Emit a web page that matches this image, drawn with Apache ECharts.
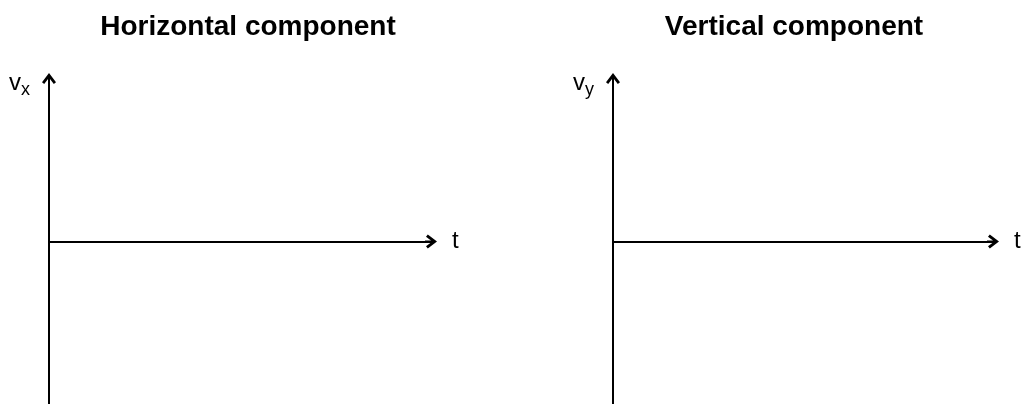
<!DOCTYPE html>
<html>
<head>
<meta charset="utf-8">
<script src="https://cdn.jsdelivr.net/npm/echarts@6/dist/echarts.min.js"></script>
<style>
  html, body { margin: 0; padding: 0; background: #fff; }
  #main { width: 1024px; height: 404px; }
</style>
</head>
<body>
<div id="main"></div>
<script>
// two empty velocity-time sketches
var titles = ['Horizontal component', 'Vertical component'];
var ySubs = ['x', 'y'];
var xName = 't';
var tRange = [0, 1];
var vRange = [-1, 1];
var emptyData = [[], []];

var font = '"Liberation Sans", Arial, sans-serif';
// open chevron arrow head (pointing up, shaft included)
var arrowPath = 'path://M7,0 L14,9.2 L11.8,11 L8,6 L8,12 L6,12 L6,6 L2.2,11 L0,9.2 Z';

var myChart = echarts.init(document.getElementById('main'));

var grids = [
    {left: 49, top: 79, width: 382, height: 325},
    {left: 613, top: 79, width: 380, height: 325}
];
var titleX = [243, 789];

var option = {
    animation: false,
    backgroundColor: '#fff',
    title: titles.map(function (t, i) {
        return {
            text: t,
            left: titleX[i],
            top: 8,
            textAlign: 'center',
            textStyle: {fontFamily: font, fontSize: 28, fontWeight: 'bold', color: '#000'}
        };
    }),
    grid: grids,
    xAxis: grids.map(function (g, i) {
        return {
            type: 'value',
            gridIndex: i,
            min: tRange[0],
            max: tRange[1],
            name: xName,
            nameLocation: 'end',
            nameGap: 21,
            nameTextStyle: {fontFamily: font, fontSize: 24, color: '#000', padding: [4, 0, 0, 0]},
            axisLine: {
                onZero: true,
                symbol: ['none', arrowPath],
                symbolSize: [14, 12],
                lineStyle: {color: '#000', width: 2}
            },
            axisTick: {show: false},
            axisLabel: {show: false},
            splitLine: {show: false}
        };
    }),
    yAxis: grids.map(function (g, i) {
        return {
            type: 'value',
            gridIndex: i,
            min: vRange[0],
            max: vRange[1],
            name: '{a|v}{b|' + ySubs[i] + '}',
            nameLocation: 'end',
            nameGap: 12,
            nameTextStyle: {
                align: 'right',
                verticalAlign: 'top',
                padding: [0, 19, 0, 0],
                rich: {
                    a: {fontFamily: font, fontSize: 24, color: '#000'},
                    b: {fontFamily: font, fontSize: 18, color: '#000', padding: [14, 0, 0, 0]}
                }
            },
            axisLine: {
                onZero: true,
                symbol: ['none', arrowPath],
                symbolSize: [14, 12],
                lineStyle: {color: '#000', width: 2}
            },
            axisTick: {show: false},
            axisLabel: {show: false},
            splitLine: {show: false}
        };
    }),
    series: emptyData.map(function (d, i) {
        return {type: 'line', xAxisIndex: i, yAxisIndex: i, data: d, showSymbol: false};
    })
};

myChart.setOption(option);
</script>
</body>
</html>
